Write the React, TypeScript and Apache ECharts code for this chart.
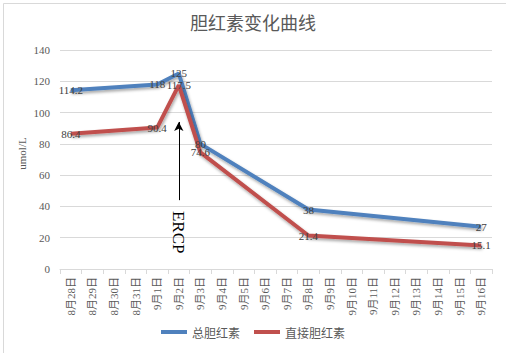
import React, { useEffect, useRef } from "react";
import * as echarts from "echarts";

const categories = [
  "8月28日", "8月29日", "8月30日", "8月31日", "9月1日", "9月2日", "9月3日", "9月4日",
  "9月5日", "9月6日", "9月7日", "9月8日", "9月9日", "9月10日", "9月11日", "9月12日",
  "9月13日", "9月14日", "9月15日", "9月16日",
];
const totalBilirubin: (number | null)[] = [
  114.2, null, null, null, 118, 125, 80, null, null, null, null, 38,
  null, null, null, null, null, null, null, 27,
];
const directBilirubin: (number | null)[] = [
  86.4, null, null, null, 90.4, 117.5, 74.6, null, null, null, null, 21.4,
  null, null, null, null, null, null, null, 15.1,
];
const seriesNames = ["总胆红素", "直接胆红素"];
const yTicks = { min: 0, max: 140, interval: 20 };
const ercpCategory = "9月2日";
const ercpArrow = [44, 94];
const ercpTextValue = 23.5;

const serifCjk = "'Liberation Serif', 'Noto Sans CJK SC'";

export default function App() {
  const ref = useRef<HTMLDivElement>(null);
  useEffect(() => {
    if (!ref.current) return;
    const chart = echarts.init(ref.current, null, { renderer: "svg" });
    const labelStyle = {
      show: true,
      position: "inside" as const,
      color: "#404040",
      fontFamily: "Liberation Serif",
      fontSize: 11,
    };
    const mkSeries = (name: string, data: (number | null)[], color: string, extra: any = {}) => ({
      name,
      type: "line",
      data,
      connectNulls: true,
      symbol: "circle",
      symbolSize: 0.1,
      itemStyle: { color },
      lineStyle: {
        color,
        width: 4,
        shadowColor: "rgba(0,0,0,0.35)",
        shadowBlur: 3,
        shadowOffsetX: 1,
        shadowOffsetY: 2,
      },
      label: labelStyle,
      emphasis: { disabled: true },
      ...extra,
    });
    chart.setOption({
      animation: false,
      title: {
        text: "胆红素变化曲线",
        left: "center",
        top: 8,
        textStyle: {
          fontFamily: "Noto Sans CJK SC",
          fontSize: 18,
          fontWeight: "normal",
          color: "#595959",
        },
      },
      legend: {
        bottom: 10,
        left: "center",
        icon: "rect",
        itemWidth: 26,
        itemHeight: 4,
        itemGap: 14,
        textStyle: { fontFamily: "Noto Sans CJK SC", fontSize: 12, color: "#595959" },
        data: seriesNames,
      },
      grid: { left: 60, right: 14, top: 50, bottom: 84, containLabel: false, outerBoundsMode: "none" },
      xAxis: {
        type: "category",
        data: categories,
        boundaryGap: true,
        axisLine: { lineStyle: { color: "#d9d9d9" } },
        axisTick: { show: true, length: 5, lineStyle: { color: "#d9d9d9" } },
        axisLabel: {
          rotate: 90,
          interval: 0,
          fontSize: 11,
          color: "#595959",
          fontFamily: serifCjk,
          margin: 8,
        },
      },
      yAxis: {
        type: "value",
        min: yTicks.min,
        max: yTicks.max,
        interval: yTicks.interval,
        name: "umol/L",
        nameLocation: "middle",
        nameGap: 33,
        nameRotate: 90,
        nameMoveOverlap: false,
        nameTextStyle: { fontSize: 11, color: "#595959", fontFamily: "Liberation Serif", padding: [0, 0, 0, 12] },
        axisLine: { show: false },
        axisTick: { show: false },
        axisLabel: { fontSize: 11, color: "#595959", margin: 10, fontFamily: "Liberation Serif" },
        splitLine: { lineStyle: { color: "#d9d9d9" } },
      },
      series: [
        mkSeries(seriesNames[0], totalBilirubin, "#4f81bd"),
        mkSeries(seriesNames[1], directBilirubin, "#c0504d", {
          markLine: {
            silent: true,
            symbol: ["none", "arrow"],
            symbolSize: [7, 9],
            label: { show: false },
            lineStyle: { color: "#000", width: 1, type: "solid", shadowBlur: 0, shadowOffsetX: 0, shadowOffsetY: 0 },
            data: [[{ coord: [ercpCategory, ercpArrow[0]] }, { coord: [ercpCategory, ercpArrow[1]] }]],
          },
        }),
      ],
    });
    const p = chart.convertToPixel({ xAxisIndex: 0, yAxisIndex: 0 }, [ercpCategory, ercpTextValue]);
    chart.setOption({
      graphic: [
        {
          type: "rect",
          left: 1,
          top: 1,
          shape: { width: 503, height: 350 },
          style: { fill: "none", stroke: "#d9d9d9", lineWidth: 1 },
          silent: true,
        },
        {
          type: "text",
          x: p[0],
          y: p[1],
          rotation: -Math.PI / 2,
          style: {
            text: "ERCP",
            fontFamily: "Liberation Serif",
            fontSize: 17,
            fill: "#000",
            align: "center",
            verticalAlign: "middle",
          },
        },
      ],
    });
    return () => chart.dispose();
  }, []);
  return (
    <div
      ref={ref}
      style={{ position: "absolute", left: 0, top: 0, width: 506, height: 353, background: "#fff" }}
    />
  );
}
